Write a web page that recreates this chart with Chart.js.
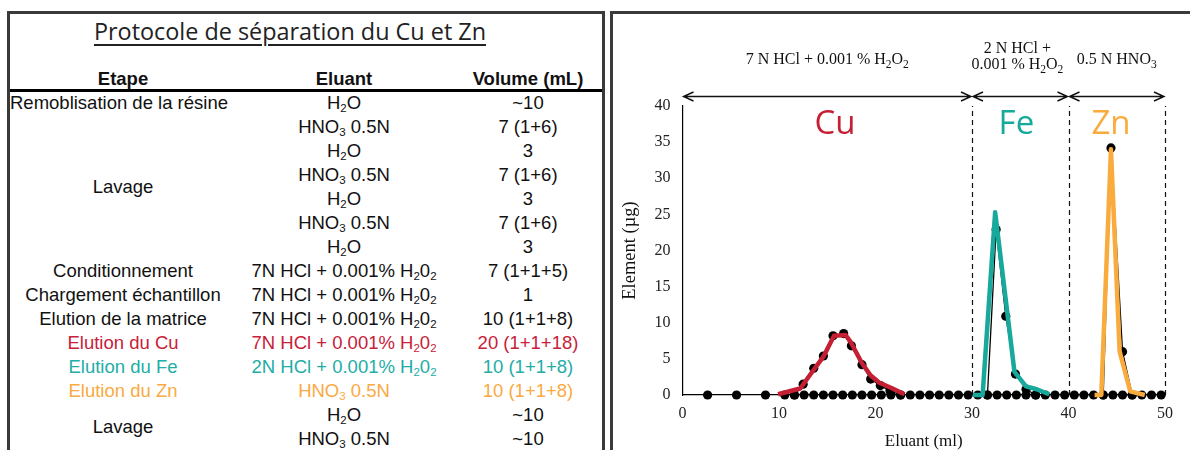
<!DOCTYPE html>
<html>
<head>
<meta charset="utf-8">
<script src="https://cdn.jsdelivr.net/npm/chart.js@4.4.1/dist/chart.umd.min.js"></script>
<style>
  html, body { margin: 0; padding: 0; width: 1190px; height: 450px; overflow: hidden; background: #fff; }
  #boxLeft { position: absolute; left: 7px; top: 11px; width: 592px; height: 470px; border: 3px solid #3a3a3a; border-bottom: none; }
  #boxRight { position: absolute; left: 610px; top: 11px; width: 600px; height: 470px; border-left: 3px solid #3a3a3a; border-top: 3px solid #3a3a3a; }
  #title { position: absolute; left: 0; top: 16px; width: 580px; text-align: center; font-family: "Open Sans", sans-serif; font-size: 23.4px; line-height: 30px; color: #222; text-decoration: underline; text-decoration-thickness: 1.5px; text-underline-offset: 4px; }
  #rule { position: absolute; left: 10px; top: 89px; width: 592px; height: 3px; background: #000; }
  #protocol { position: absolute; left: 10px; top: 67px; width: 594px; border-collapse: collapse; border-spacing: 0; table-layout: fixed; font-family: "Liberation Sans", Arial, sans-serif; font-size: 18.5px; color: #111; }
  #protocol td, #protocol th { padding: 0; height: 24px; line-height: 24px; text-align: center; white-space: nowrap; vertical-align: middle; }
  #protocol th { font-weight: bold; }
  #protocol td.leftAlign { text-align: left; }
  sub { font-size: 0.62em; vertical-align: -0.3em; line-height: 0; }
  #chartWrap { position: absolute; left: 614px; top: 16px; width: 576px; height: 436px; }
</style>
</head>
<body>
<div id="boxLeft"></div>
<div id="boxRight"></div>
<div id="title">Protocole de séparation du Cu et Zn</div>
<table id="protocol">
  <colgroup><col style="width:226px"><col style="width:216px"><col style="width:152px"></colgroup>
  <thead><tr><th>Etape</th><th>Eluant</th><th>Volume (mL)</th></tr></thead>
  <tbody id="protocolBody"></tbody>
</table>
<div id="rule"></div>
<div id="chartWrap"><canvas id="chart" width="576" height="436"></canvas></div>

<script>
// ---------------- Table data ----------------
const stepLabels   = ["Remoblisation de la résine", "Lavage", "Conditionnement", "Chargement échantillon",
                      "Elution de la matrice", "Elution du Cu", "Elution du Fe", "Elution du Zn", "Lavage"];
const stepRowSpans = [1, 6, 1, 1, 1, 1, 1, 1, 2];
const stepColors   = ["#111", "#111", "#111", "#111", "#111", "#C8213A", "#22ADA6", "#F9AA43", "#111"];
const eluantLabels = ["H<sub>2</sub>O", "HNO<sub>3</sub> 0.5N", "H<sub>2</sub>O", "HNO<sub>3</sub> 0.5N",
                      "H<sub>2</sub>O", "HNO<sub>3</sub> 0.5N", "H<sub>2</sub>O",
                      "7N HCl + 0.001% H<sub>2</sub>0<sub>2</sub>", "7N HCl + 0.001% H<sub>2</sub>0<sub>2</sub>",
                      "7N HCl + 0.001% H<sub>2</sub>0<sub>2</sub>", "7N HCl + 0.001% H<sub>2</sub>0<sub>2</sub>",
                      "2N HCl + 0.001% H<sub>2</sub>0<sub>2</sub>", "HNO<sub>3</sub> 0.5N",
                      "H<sub>2</sub>O", "HNO<sub>3</sub> 0.5N"];
const volumeLabels = ["~10", "7 (1+6)", "3", "7 (1+6)", "3", "7 (1+6)", "3", "7 (1+1+5)", "1",
                      "10 (1+1+8)", "20 (1+1+18)", "10 (1+1+8)", "10 (1+1+8)", "~10", "~10"];

// ---------------- Chart data ----------------
// all collected fractions (baseline measurements at 0 µg)
const fractionVolume = [2.6, 5.6, 8.6, 10.6, 11.6, 12.6, 13.6, 14.6, 15.6, 16.6, 17.6, 18.6, 19.6, 20.6, 21.6,
                        22.6, 23.6, 24.6, 25.6, 26.6, 27.6, 28.6, 29.6, 30.6, 31.6, 32.6, 33.6, 34.6, 35.6, 36.6,
                        37.6, 38.6, 39.6, 40.6, 41.6, 42.6, 43.6, 44.6, 45.6, 46.6, 47.6, 48.6, 49.6];
const fractionMass   = [0, 0, 0, 0, 0, 0, 0, 0, 0, 0, 0, 0, 0, 0, 0, 0, 0, 0, 0, 0, 0, 0,
                        0, 0, 0, 0, 0, 0, 0, 0, 0, 0, 0, 0, 0, 0, 0, 0, 0, 0, 0, 0, 0];
// measured elution peaks
const cuVolume = [11.6, 12.5, 13.6, 14.6, 15.6, 16.7, 17.5, 18.6, 19.5, 20.5, 21.5, 22.6];
const cuMass   = [0, 1.5, 3.7, 5.4, 8.2, 8.5, 6.8, 4.2, 2.2, 1.3, 0.6, 0];
const feVolume = [31.6, 32.5, 33.5, 34.5, 35.6, 36.6];
const feMass   = [0, 22.9, 10.9, 2.9, 0.8, 0];
const znVolume = [43.6, 44.4, 45.6, 46.6];
const znMass   = [0, 34.2, 6.0, 0];
// hand-drawn coloured traces
const cuTraceVolume = [9.9, 12.2, 13.6, 14.6, 15.7, 16.9, 17.4, 18.6, 19.5, 20.4, 21.6, 23.0];
const cuTraceMass   = [0.1, 0.9, 3.5, 5.3, 8.2, 8.3, 7.4, 4.4, 2.7, 1.7, 1.0, 0.1];
const feTraceVolume = [30.1, 31.1, 32.4, 34.4, 35.6, 36.7, 38.0];
const feTraceMass   = [0, 0, 25.3, 3.2, 1.2, 0.8, 0.1];
const znTraceVolume = [42.7, 43.4, 44.4, 45.3, 46.4, 47.9];
const znTraceMass   = [0, 0, 34.0, 6.0, 0.5, 0];

const elementNames = ["Cu", "Fe", "Zn"];
const xTickStep = 10, yTickStep = 5;

// ---------------- Colours / styles ----------------
const colCu = "#C41F33", colFe = "#17A99B", colZn = "#F9AC3D";

// ---------------- Build table ----------------
(function buildTable() {
  const body = document.getElementById("protocolBody");
  let row = 0;
  const rows = [];
  for (let i = 0; i < eluantLabels.length; i++) rows.push(document.createElement("tr"));
  stepLabels.forEach((label, s) => {
    const td = document.createElement("td");
    td.textContent = label;
    td.rowSpan = stepRowSpans[s];
    td.style.color = stepColors[s];
    if (s === 0) td.className = "leftAlign";
    rows[row].appendChild(td);
    for (let k = 0; k < stepRowSpans[s]; k++) {
      const r = row + k;
      const e = document.createElement("td");
      e.innerHTML = eluantLabels[r];
      e.style.color = stepColors[s];
      const v = document.createElement("td");
      v.textContent = volumeLabels[r];
      v.style.color = stepColors[s];
      rows[r].appendChild(e);
      rows[r].appendChild(v);
    }
    row += stepRowSpans[s];
  });
  rows.forEach(r => body.appendChild(r));
})();

// ---------------- Annotation layout (positions in data units) ----------------
const annot = {
  arrowLevel: 41.4,
  ranges: [[0, 30], [30, 40], [40, 50]],
  dividers: [30, 40, 50],
  dividerTop: 40,
  eluents: [
    { x: 15.0, y: 45.8, parts: [["7 N HCl + 0.001 % H", 0], ["2", 1], ["O", 0], ["2", 1]] },
    { x: 34.7, y: 47.3, parts: [["2 N HCl +", 0]] },
    { x: 34.7, y: 45.1, parts: [["0.001 % H", 0], ["2", 1], ["O", 0], ["2", 1]] },
    { x: 45.0, y: 45.8, parts: [["0.5 N HNO", 0], ["3", 1]] }
  ],
  labels: [
    { x: 15.8, y: 36.1, color: colCu },
    { x: 34.6, y: 36.1, color: colFe },
    { x: 44.4, y: 36.1, color: colZn }
  ]
};

function pts(xs, ys) { return xs.map((v, i) => ({ x: v, y: ys[i] })); }

function drawRich(ctx, parts, cx, baseline, size, family) {
  const sub = size * 0.72;
  let total = 0;
  const widths = parts.map(([t, s]) => {
    ctx.font = (s ? sub : size) + "px " + family;
    const w = ctx.measureText(t).width;
    total += w;
    return w;
  });
  let x = cx - total / 2;
  parts.forEach(([t, s], i) => {
    ctx.font = (s ? sub : size) + "px " + family;
    ctx.fillText(t, x, baseline + (s ? size * 0.25 : 0));
    x += widths[i];
  });
}

const overlay = {
  id: "overlay",
  beforeDatasetsDraw(chart) {
    const { ctx, scales: { x, y } } = chart;
    ctx.save();
    // dashed dividers
    ctx.strokeStyle = "#111";
    ctx.lineWidth = 1.2;
    ctx.setLineDash([5, 4]);
    annot.dividers.forEach(d => {
      const px = Math.round(x.getPixelForValue(d)) + 0.5;
      ctx.beginPath();
      ctx.moveTo(px, y.getPixelForValue(0));
      ctx.lineTo(px, y.getPixelForValue(annot.dividerTop));
      ctx.stroke();
    });
    ctx.setLineDash([]);
    // double arrows
    const ay = Math.round(y.getPixelForValue(annot.arrowLevel)) + 0.5;
    ctx.lineWidth = 1.4;
    annot.ranges.forEach(([a, b]) => {
      const x1 = x.getPixelForValue(a) + 1, x2 = x.getPixelForValue(b) - 1;
      ctx.beginPath();
      ctx.moveTo(x1, ay); ctx.lineTo(x2, ay);
      ctx.moveTo(x1 + 10, ay - 4.5); ctx.lineTo(x1, ay); ctx.lineTo(x1 + 10, ay + 4.5);
      ctx.moveTo(x2 - 10, ay - 4.5); ctx.lineTo(x2, ay); ctx.lineTo(x2 - 10, ay + 4.5);
      ctx.stroke();
    });
    ctx.restore();
  },
  afterDraw(chart) {
    const { ctx, scales: { x, y } } = chart;
    ctx.save();
    ctx.fillStyle = "#111";
    ctx.textBaseline = "alphabetic";
    ctx.textAlign = "left";
    annot.eluents.forEach(e => {
      drawRich(ctx, e.parts, x.getPixelForValue(e.x), y.getPixelForValue(e.y), 16, '"Liberation Serif", serif');
    });
    ctx.textAlign = "center";
    ctx.font = '33px "Open Sans", sans-serif';
    annot.labels.forEach((l, i) => {
      ctx.fillStyle = l.color;
      ctx.fillText(elementNames[i], x.getPixelForValue(l.x), y.getPixelForValue(l.y));
    });
    ctx.restore();
  }
};

const serif = '"Liberation Serif", "Times New Roman", serif';
const black = "#000";

new Chart(document.getElementById("chart"), {
  type: "scatter",
  data: {
    datasets: [
      { label: "Cu trace", data: pts(cuTraceVolume, cuTraceMass), showLine: true, borderColor: colCu, borderWidth: 4.5,
        pointRadius: 0, borderJoinStyle: "round", borderCapStyle: "butt", order: 0, clip: false },
      { label: "Fe trace", data: pts(feTraceVolume, feTraceMass), showLine: true, borderColor: colFe, borderWidth: 4.5,
        pointRadius: 0, borderJoinStyle: "round", borderCapStyle: "butt", order: 0, clip: false },
      { label: "Zn trace", data: pts(znTraceVolume, znTraceMass), showLine: true, borderColor: colZn, borderWidth: 4.5,
        pointRadius: 0, borderJoinStyle: "round", borderCapStyle: "butt", order: 0, clip: false },
      { label: "Cu", data: pts(cuVolume, cuMass), showLine: true, borderColor: black, borderWidth: 1.3,
        pointRadius: 4.6, pointBackgroundColor: black, pointBorderWidth: 0, order: 1, clip: false },
      { label: "Fe", data: pts(feVolume, feMass), showLine: true, borderColor: black, borderWidth: 1.3,
        pointRadius: 4.6, pointBackgroundColor: black, pointBorderWidth: 0, order: 1, clip: false },
      { label: "Zn", data: pts(znVolume, znMass), showLine: true, borderColor: black, borderWidth: 1.3,
        pointRadius: 4.6, pointBackgroundColor: black, pointBorderWidth: 0, order: 1, clip: false },
      { label: "Fractions", data: pts(fractionVolume, fractionMass), showLine: false,
        pointRadius: 4.6, pointBackgroundColor: black, pointBorderWidth: 0, order: 2, clip: false }
    ]
  },
  options: {
    responsive: false,
    animation: false,
    events: [],
    devicePixelRatio: 1,
    layout: { padding: { left: 0, right: 25, top: 90, bottom: 0 } },
    plugins: { legend: { display: false }, tooltip: { enabled: false } },
    scales: {
      x: {
        type: "linear", min: 0, max: 50,
        ticks: { stepSize: xTickStep, color: "#222", font: { family: serif, size: 16 }, padding: 9, maxRotation: 0 },
        grid: { display: false, drawTicks: false },
        border: { display: true, color: black, width: 1.2 },
        title: { display: true, text: "Eluant (ml)", color: "#111", font: { family: serif, size: 17 }, padding: { top: 0, bottom: 0 } },
        afterFit(s) { s.height = 57; }
      },
      y: {
        type: "linear", min: 0, max: 40,
        ticks: { stepSize: yTickStep, color: "#222", font: { family: serif, size: 16 }, padding: 12 },
        grid: { display: false, drawTicks: false },
        border: { display: true, color: black, width: 1.2 },
        title: { display: true, text: "Element (µg)", color: "#111", font: { family: serif, size: 18.5 }, padding: { top: 5, bottom: 0 } },
        afterFit(s) { s.width = 68.5; }
      }
    }
  },
  plugins: [overlay]
});
</script>
</body>
</html>
